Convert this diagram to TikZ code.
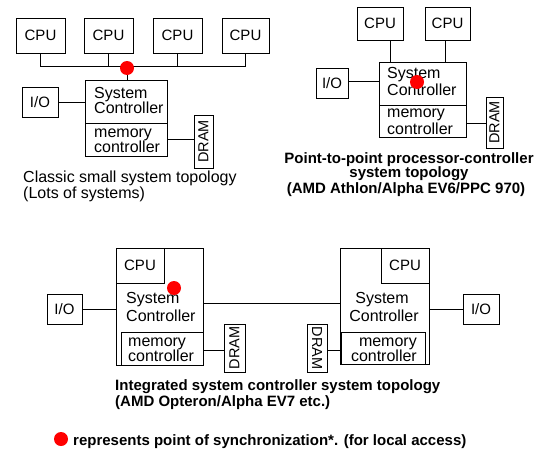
\documentclass[tikz,border=0pt]{standalone}
\usepackage{fontspec}
\setmainfont{Liberation Sans}
\begin{document}
\begin{tikzpicture}[x=1pt,y=-1pt,
  bx/.style={draw, line width=0.8pt, inner sep=0pt},
  ln/.style={line width=0.8pt},
  sync/.style={circle, fill=red, draw=none, inner sep=0pt, minimum size=14pt},
  cpufont/.style={font=\fontsize{15}{15}\selectfont},
  boxfont/.style={font=\fontsize{16}{16}\selectfont, inner sep=0pt, anchor=base west},
  dramfont/.style={font=\fontsize{14.5}{14.5}\selectfont},
  capr/.style={font=\fontsize{16}{16}\selectfont, inner sep=0pt},
  capb/.style={font=\fontsize{15}{15}\selectfont\bfseries, inner sep=0pt}]
\useasboundingbox (0,0) rectangle (540,450);

% ---------- Classic ----------
\node[bx, cpufont, minimum width=49pt, minimum height=35pt] (c1) at (40.5,35.5) {CPU};
\node[bx, cpufont, minimum width=49pt, minimum height=35pt] (c2) at (108.5,35.5) {CPU};
\node[bx, cpufont, minimum width=49pt, minimum height=35pt] (c3) at (177.5,35.5) {CPU};
\node[bx, cpufont, minimum width=47pt, minimum height=35pt] (c4) at (245.5,35.5) {CPU};
\coordinate (busy) at (0,66);
\draw[ln] (c1.south) |- (c4.south |- busy) -- (c4.south);
\draw[ln] (c2.south) -- (c2.south |- busy);
\draw[ln] (c3.south) -- (c3.south |- busy);
\node[bx, minimum width=82pt, minimum height=43pt] (sc1) at (126,101.5) {};
\node[bx, minimum width=82pt, minimum height=33pt] (mc1) at (126,139.5) {};
\coordinate (bus1) at (127,66);
\draw[ln] (bus1) -- (bus1 |- sc1.north);
\node[sync] (d1) at (127,68) {};
\node[boxfont] (sc1a) at (94,98) {System};
\node[boxfont] (sc1b) at (94,113) {Controller};
\node[boxfont] (mc1a) at (94,137) {memory};
\node[boxfont] (mc1b) at (94,152) {controller};
\node[bx, cpufont, minimum width=36pt, minimum height=30pt] (io1) at (40,102) {I/O};
\draw[ln] (io1.east) -- (io1.east -| sc1.west);
\node[bx, dramfont, rotate=90, minimum width=53pt, minimum height=19pt] (dr1) at (203.5,141.5) {DRAM};
\draw[ln] (mc1.east) -- (mc1.east -| dr1.north);
\node[capr, anchor=base west] (cap1a) at (23,182) {Classic small system topology};
\node[capr, anchor=base west] (cap1b) at (23,198) {(Lots of systems)};

% ---------- Point-to-point ----------
\node[bx, cpufont, minimum width=46pt, minimum height=33pt] (pa) at (380,23.5) {CPU};
\node[bx, cpufont, minimum width=45pt, minimum height=33pt] (pb) at (447.5,23.5) {CPU};
\node[bx, minimum width=87pt, minimum height=43pt] (sc2) at (422.5,83.5) {};
\node[bx, minimum width=87pt, minimum height=32pt] (mc2) at (422.5,121) {};
\draw[ln] ([xshift=10pt]pa.south) -- ([xshift=10pt]pa.south |- sc2.north);
\draw[ln] ([xshift=-2pt]pb.south) -- ([xshift=-2pt]pb.south |- sc2.north);
\node[boxfont] (sc2a) at (387,78) {System};
\node[boxfont] (sc2b) at (387,95) {Controller};
\node[boxfont] (mc2a) at (387,117) {memory};
\node[boxfont] (mc2b) at (387,134) {controller};
\node[sync] (d2) at (417,82) {};
\node[bx, cpufont, minimum width=32pt, minimum height=30pt] (io2) at (332,83) {I/O};
\draw[ln] ([yshift=2pt]io2.east) -- ([yshift=2pt]io2.east -| sc2.west);
\node[bx, dramfont, rotate=90, minimum width=51pt, minimum height=17pt] (dr2) at (494.5,122.5) {DRAM};
\draw[ln] ([yshift=-2pt]mc2.east) -- ([yshift=-2pt]mc2.east -| dr2.north);
\node[capb, anchor=base] (cap2a) at (409,163) {Point-to-point processor-controller};
\node[capb, anchor=base] (cap2b) at (409,177) {system topology};
\node[capb, anchor=base] (cap2c) at (406,193) {(AMD Athlon/Alpha EV6/PPC 970)};

% ---------- Integrated ----------
\node[bx, minimum width=87pt, minimum height=117pt] (bl) at (159.5,306.5) {};
\node[bx, cpufont, anchor=north west, minimum width=48pt, minimum height=35pt] (cl) at (bl.north west) {CPU};
\node[bx, anchor=south east, minimum width=82pt, minimum height=33pt] (ml) at (bl.south east) {};
\node[boxfont] (sla) at (126,303) {System};
\node[boxfont] (slb) at (126,321) {Controller};
\node[boxfont] (mla) at (128,346) {memory};
\node[boxfont] (mlb) at (128,361) {controller};
\node[sync] (d3) at (174,288) {};
\node[bx, cpufont, minimum width=35pt, minimum height=30pt] (iol) at (64.5,309) {I/O};
\draw[ln] (iol.east) -- (iol.east -| bl.west);
\node[bx, dramfont, rotate=90, minimum width=48pt, minimum height=21pt] (drl) at (234.5,348) {DRAM};
\draw[ln] ([yshift=-2pt]ml.east) -- ([yshift=-2pt]ml.east -| drl.north);

\node[bx, minimum width=89pt, minimum height=116pt] (br) at (384.5,306) {};
\node[bx, cpufont, anchor=north east, minimum width=48pt, minimum height=35pt] (cr) at (br.north east) {CPU};
\node[bx, anchor=south west, minimum width=84pt, minimum height=32pt] (mr) at ([xshift=1pt]br.south west) {};
\node[boxfont, anchor=base] (sra) at (382,303) {System};
\node[boxfont, anchor=base] (srb) at (384,321) {Controller};
\node[boxfont, anchor=base east] (mra) at (417,346) {memory};
\node[boxfont, anchor=base east] (mrb) at (417,361) {controller};
\node[bx, cpufont, minimum width=36pt, minimum height=30pt] (ior) at (481,309) {I/O};
\draw[ln] (ior.west) -- (ior.west -| br.east);
\node[bx, dramfont, rotate=-90, minimum width=48pt, minimum height=20pt] (drr) at (317,348) {DRAM};
\draw[ln] ([yshift=-2pt]mr.west) -- ([yshift=-2pt]mr.west -| drr.north);

\draw[ln] ([yshift=3.5pt]bl.east) -- ([yshift=3.5pt]bl.east -| br.west);

\node[capb, anchor=base west] (cap3a) at (115,390) {Integrated system controller system topology};
\node[capb, anchor=base west] (cap3b) at (115,406) {(AMD Opteron/Alpha EV7 etc.)};

% ---------- Legend ----------
\node[sync] (dl) at (61,439) {};
\node[capb, anchor=base west] (leg) at (73,445) {represents point of synchronization*. (for local access)};
\end{tikzpicture}
\end{document}
